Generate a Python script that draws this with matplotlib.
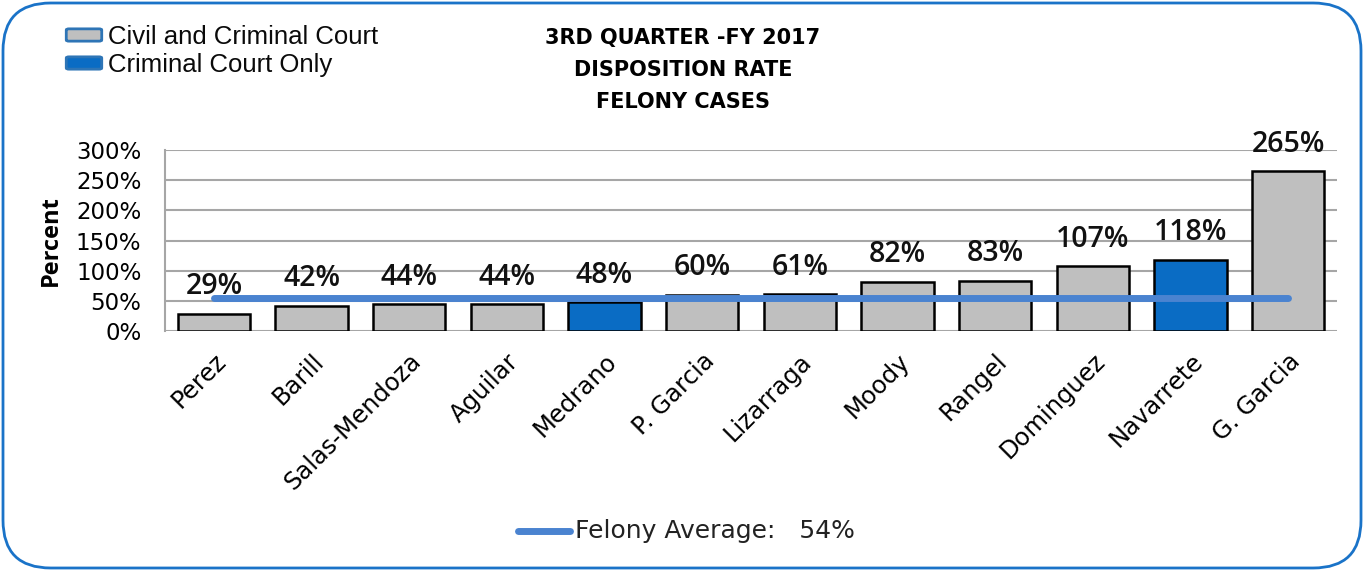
import matplotlib.pyplot as plt
from matplotlib.patches import FancyBboxPatch
from matplotlib.lines import Line2D

# judges and disposition rates (percent)
judges = ["Perez", "Barill", "Salas-Mendoza", "Aguilar", "Medrano", "P. Garcia",
          "Lizarraga", "Moody", "Rangel", "Dominguez", "Navarrete", "G. Garcia"]
rates = [29, 42, 44, 44, 48, 60, 61, 82, 83, 107, 118, 265]
criminal_only = [False, False, False, False, True, False,
                 False, False, False, False, True, False]
felony_average = 54
y_ticks = [0, 50, 100, 150, 200, 250, 300]

gray = '#bfbfbf'
blue = '#0a6cc4'
avg_color = '#4a83d0'

fig = plt.figure(figsize=(13.64, 5.71), dpi=100)
ax = fig.add_axes([165/1364, 1 - 331/571, (1337-165)/1364, (331-150)/571])

# Bars
colors = [blue if c else gray for c in criminal_only]
x = list(range(len(judges)))
bars = ax.bar(x, rates, width=0.74, color=colors, edgecolor='black', linewidth=1.8, zorder=3)

# Data labels
for xi, r in zip(x, rates):
    ax.annotate(f"{r}%", (xi, r), xytext=(0, 9), textcoords='offset points',
                ha='center', va='bottom', fontsize=20.5, fontweight='semibold',
                family='Open Sans', color='#111111', zorder=5)

# Average line
ax.plot([x[0], x[-1]], [felony_average, felony_average], color=avg_color,
        linewidth=5, solid_capstyle='round', zorder=4)

ax.set_xlim(-0.5, len(judges) - 0.5)
ax.set_ylim(0, 300)
ax.set_yticks(y_ticks)
ax.set_yticklabels([f"{t}%" for t in y_ticks], fontsize=16.5, family='DejaVu Sans')
ax.yaxis.grid(True, color='#a6a6a6', linewidth=1.5, zorder=0)
ax.set_axisbelow(True)
ax.tick_params(axis='y', length=0, pad=17)
ax.tick_params(axis='x', length=0, pad=13)
ax.set_xticks(x)
ax.set_xticklabels(judges, rotation=45, ha='right', rotation_mode='anchor',
                   fontsize=17.5, family='DejaVu Sans')
for s in ['top', 'right', 'bottom']:
    ax.spines[s].set_visible(False)
ax.spines['left'].set_color('#a6a6a6')
ax.spines['left'].set_linewidth(1.5)
ax.set_ylabel("Percent", fontsize=17, fontweight='bold', family='Open Sans')
ax.yaxis.set_label_coords(-(165 - 63)/1172, 0.5)

# Title
for line, ypix in [("3RD QUARTER -FY 2017", 38), ("DISPOSITION RATE", 70), ("FELONY CASES", 102)]:
    fig.text(683/1364, 1 - ypix/571, line, ha='center', va='center',
             fontsize=15, fontweight='bold', family='DejaVu Sans')

# Top-left legend
legend_items = [("Civil and Criminal Court", gray, 35), ("Criminal Court Only", blue, 63)]
for label, fc, ypix in legend_items:
    box = FancyBboxPatch((69/1364, 1 - (ypix + 5)/571), 30/1364, 10/571,
                         boxstyle='round,pad=0.002', transform=fig.transFigure,
                         facecolor=fc, edgecolor='#2e75b6', linewidth=2)
    fig.add_artist(box)
    fig.text(108/1364, 1 - (ypix + 2)/571, label, ha='left', va='center',
             fontsize=18.5, family='Liberation Sans', color='#0a0a0a')

# Bottom legend
fig.add_artist(Line2D([518/1364, 570/1364], [1 - 531/571, 1 - 531/571],
                      transform=fig.transFigure, color=avg_color, linewidth=5,
                      solid_capstyle='round'))
fig.text(575/1364, 1 - 531/571, f"Felony Average:   {felony_average}%", ha='left', va='center',
         fontsize=18, family='DejaVu Sans', color='#222222')

# Rounded border
border = FancyBboxPatch((3/1364, 3/571), 1358/1364, 565/571,
                        boxstyle='round,pad=0,rounding_size=0.035',
                        transform=fig.transFigure, facecolor='none',
                        edgecolor='#1a73c8', linewidth=2, mutation_aspect=1364/571)
fig.add_artist(border)

fig.savefig("out.png", dpi=100)
